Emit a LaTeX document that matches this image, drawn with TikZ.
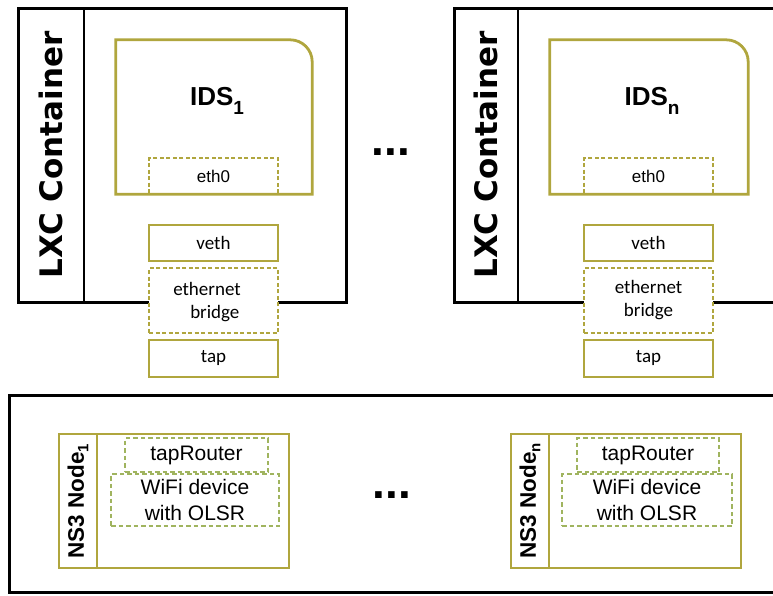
\documentclass[tikz,border=0pt]{standalone}
\usepackage{fontspec}
\newfontfamily\hv{Liberation Sans}
\newfontfamily\dv{DejaVu Sans}
\newfontfamily\cb{Carlito}
\definecolor{olive}{RGB}{176,166,62}
\definecolor{lgreen}{RGB}{160,180,95}
\begin{document}
\begin{tikzpicture}[x=1pt,y=-1pt,
  box/.style={draw=black,line width=3pt,fill=white,inner sep=0pt},
  strip/.style={draw=black,line width=1.8pt,inner sep=0pt},
  ids/.style={inner sep=0pt},
  solidif/.style={draw=olive,line width=1.8pt,fill=white,inner sep=0pt,font=\cb\fontsize{19}{22}\selectfont},
  dashif/.style={draw=olive,line width=1.2pt,dash pattern=on 4pt off 2.5pt,fill=white,inner sep=0pt},
  nsbox/.style={draw=olive,line width=2.6pt,inner sep=0pt},
  nsstrip/.style={draw=olive,line width=2.2pt,inner sep=0pt},
  nsdash/.style={draw=lgreen,line width=1.3pt,dash pattern=on 4.5pt off 3pt,inner sep=0pt,font=\hv\fontsize{21}{26}\selectfont,align=center},
  lxclabel/.style={rotate=90,font=\dv\bfseries\fontsize{31}{34}\selectfont},
  nslabel/.style={rotate=90,font=\hv\bfseries\fontsize{22.5}{25}\selectfont},
  idslabel/.style={font=\hv\bfseries\fontsize{26}{30}\selectfont},
  dots/.style={font=\hv\bfseries\fontsize{46}{48}\selectfont}
]
\useasboundingbox (0,0) rectangle (773,595);

% ---------- left LXC container ----------
\node[box,minimum width=328pt,minimum height=294pt] (lxc1) at (182,155) {};
\node[strip,minimum width=66pt,minimum height=294pt] (s1) at (51,155) {};
\node[lxclabel] at (s1) {LXC Container};
\node[ids,minimum width=196pt,minimum height=154pt] (ids1) at (214,117) {};
\node[dashif,minimum width=129pt,minimum height=36pt,font=\hv\fontsize{17}{20}\selectfont] (eth1) at (213.5,176) {eth0};
\draw[olive,line width=2.8pt,line join=miter]
  (ids1.south west) -- (ids1.north west) -- ([xshift=-22pt]ids1.north east)
  arc[start angle=90,end angle=0,radius=22pt] -- (ids1.south east) -- cycle;
\node[idslabel] at (217,101) {IDS\raisebox{-0.32em}{\fontsize{19}{20}\selectfont 1}};
\node[solidif,minimum width=129pt,minimum height=36pt] (veth1) at (213.5,243) {veth};
\node[dashif,minimum width=129pt,minimum height=65pt] (br1) at (213.5,300.5) {};
\node[font=\cb\fontsize{19}{23}\selectfont,align=left] at (207,302) {ethernet\\\hspace*{17pt}bridge};
\node[solidif,minimum width=129pt,minimum height=37pt] (tap1) at (213.5,358.5) {tap};

% ---------- dots between ----------
\node[dots] (d1) at (391,152) {...};

% ---------- right LXC container ----------
\coordinate (r1) at (780,8);
\coordinate (r2) at (780,302);
\draw[black,line width=3pt] (r1) -- (454,8) -- (454,302) -- (r2);
\node[strip,minimum width=64pt,minimum height=294pt] (s2) at (486,155) {};
\node[lxclabel] at (s2) {LXC Container};
\node[ids,minimum width=198pt,minimum height=154pt] (idsn) at (649,117) {};
\node[dashif,minimum width=129pt,minimum height=36pt,font=\hv\fontsize{17}{20}\selectfont] (ethn) at (648.5,176) {eth0};
\draw[olive,line width=2.8pt,line join=miter]
  (idsn.south west) -- (idsn.north west) -- ([xshift=-22pt]idsn.north east)
  arc[start angle=90,end angle=0,radius=22pt] -- (idsn.south east) -- cycle;
\node[idslabel] at (652,101) {IDS\raisebox{-0.32em}{\fontsize{19}{20}\selectfont n}};
\node[solidif,minimum width=129pt,minimum height=36pt] (vethn) at (648.5,243) {veth};
\node[dashif,minimum width=129pt,minimum height=65pt,font=\cb\fontsize{19}{23}\selectfont,align=center] (brn) at (648.5,300.5) {ethernet\\bridge};
\node[solidif,minimum width=129pt,minimum height=37pt] (tapn) at (648.5,358.5) {tap};

% ---------- bottom NS3 box ----------
\coordinate (b1) at (780,395);
\coordinate (b2) at (780,592);
\draw[black,line width=3pt] (b1) -- (9,395) -- (9,592) -- (b2);

\node[nsbox,minimum width=230pt,minimum height=134pt] (ns1) at (174,501) {};
\node[nsstrip,minimum width=38pt,minimum height=134pt] (ns1s) at (78,501) {};
\node[nslabel] at (ns1s) {NS3 Node\raisebox{-0.2em}{\fontsize{15}{16}\selectfont 1}};
\node[nsdash,minimum width=143pt,minimum height=34pt] (tr1) at (196.5,455) {tapRouter};
\node[nsdash,minimum width=168pt,minimum height=52pt] (wf1) at (195,500) {WiFi device\\with OLSR};

\node[dots] (d2) at (392,495) {...};

\node[nsbox,minimum width=230pt,minimum height=134pt] (nsn) at (626,501) {};
\node[nsstrip,minimum width=38pt,minimum height=134pt] (nsns) at (530,501) {};
\node[nslabel] at (nsns) {NS3 Node\raisebox{-0.2em}{\fontsize{15}{16}\selectfont n}};
\node[nsdash,minimum width=142pt,minimum height=34pt] (trn) at (648,455) {tapRouter};
\node[nsdash,minimum width=170pt,minimum height=52pt] (wfn) at (647,500) {WiFi device\\with OLSR};
\end{tikzpicture}
\end{document}
